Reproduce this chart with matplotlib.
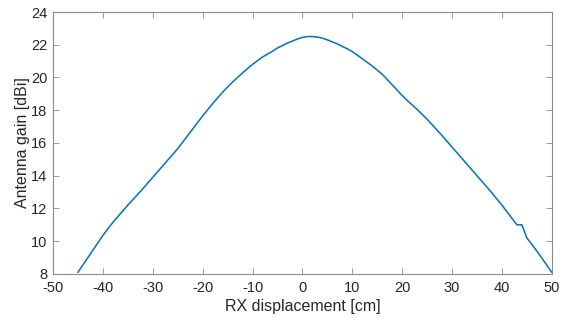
import matplotlib
matplotlib.use("Agg")
import matplotlib.pyplot as plt

plt.rcParams['font.family'] = ['Liberation Sans', 'DejaVu Sans']
plt.rcParams['axes.unicode_minus'] = False

# RX displacement [cm] and antenna gain [dBi]
displacement = [-45, -44, -43, -42, -41, -40, -38, -36, -35, -32, -30, -28, -25, -22,
                -20, -18, -17, -16, -15, -14, -12, -10, -8, -6, -5, -3, -1, 0, 1, 2,
                3, 4, 5, 7, 9, 10, 12, 14, 15, 16, 18, 20, 21, 23, 25, 28, 30, 33,
                35, 38, 40, 42, 43, 44, 45, 47, 50]
gain = [8.1, 8.55, 9.0, 9.45, 9.9, 10.35, 11.15, 11.85, 12.2, 13.2, 13.9, 14.6,
        15.65, 16.85, 17.65, 18.4, 18.75, 19.1, 19.42, 19.72, 20.28, 20.8, 21.25, 21.6,
        21.8, 22.1, 22.35, 22.45, 22.5, 22.5, 22.47, 22.4, 22.3, 22.05, 21.75,
        21.58, 21.15, 20.7, 20.45, 20.2, 19.55, 18.9, 18.6, 18.05, 17.45, 16.45,
        15.75, 14.7, 14.0, 12.95, 12.2, 11.4, 11.0, 11.0, 10.2, 9.4, 8.1]

xticks = list(range(-50, 51, 10))
yticks = list(range(8, 25, 2))

fig = plt.figure(figsize=(5.73, 3.2), dpi=100)
ax = fig.add_axes([0.0925, 0.144, 0.8705, 0.8185])

ax.plot(displacement, gain, color=(0, 0.447, 0.741), linewidth=1.1)

ax.set_xlim(-50, 50)
ax.set_ylim(8, 24)
ax.set_xticks(xticks)
ax.set_yticks(yticks)
ax.tick_params(direction='in', top=True, right=True, length=4, width=0.6,
               colors='#8a8a8a', labelcolor='#262626', labelsize=10.5)
ax.tick_params(axis='x', pad=5)
ax.tick_params(axis='y', pad=4)
for s in ax.spines.values():
    s.set_color('#8a8a8a')
    s.set_linewidth(0.8)

ax.set_xlabel('RX displacement [cm]', fontsize=11.5, color='#262626', labelpad=3)
ax.set_ylabel('Antenna gain [dBi]', fontsize=11.5, color='#262626', labelpad=1)

fig.savefig('out.png', dpi=100)
